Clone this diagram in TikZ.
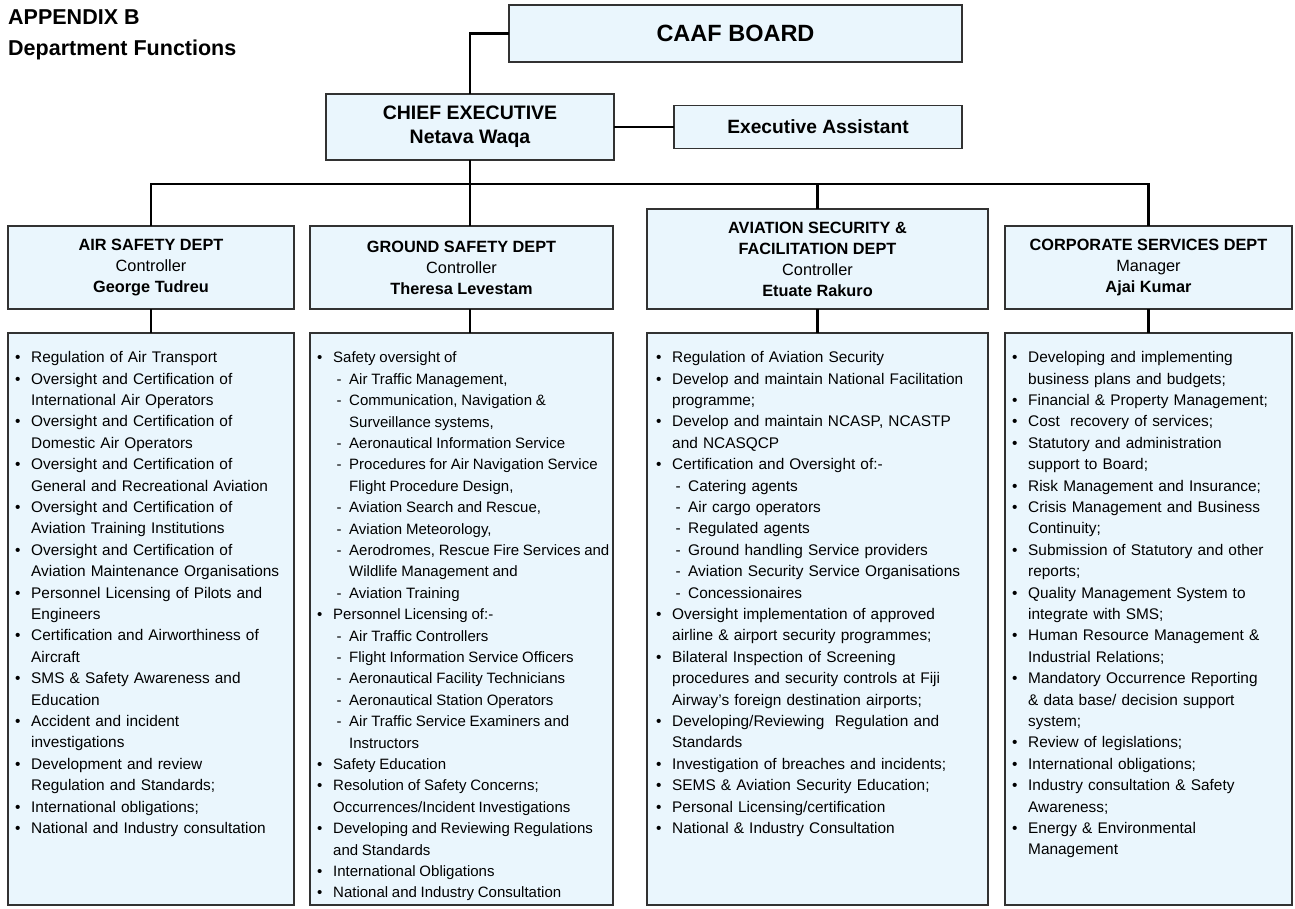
\documentclass[tikz,border=0pt]{standalone}
\usepackage{fontspec}
\setmainfont{Liberation Sans}
\definecolor{boxfill}{RGB}{234,246,253}
\definecolor{boxline}{RGB}{50,50,50}
\hyphenpenalty=10000
\exhyphenpenalty=10000
\newcommand\itB[1]{\par\noindent\hangindent=16pt\hangafter=1\makebox[16pt][l]{\textbullet}#1\par}
\newcommand\itD[1]{\par\noindent\hangindent=32pt\hangafter=1\hspace*{19.5pt}\makebox[12.5pt][l]{-}#1\par}
\newcommand\lbk{\hfil\break}
\tikzset{
  orgbox/.style={draw=boxline, line width=1.2pt, fill=boxfill, inner sep=0pt, outer sep=0pt, align=center},
  conn/.style={draw=black, line width=2.5pt, line join=miter},
  listtext/.style={anchor=north west, inner sep=0pt, text width=#1, align=left, font=\fontsize{15.4}{21.4}\selectfont},
  hdrfont/.style={font=\fontsize{16.3}{21}\selectfont},
}
\begin{document}
\begin{tikzpicture}[x=1pt,y=-1pt]
\useasboundingbox (0,0) rectangle (1295,909);

% titles
\node[anchor=base west, inner sep=0pt, font=\fontsize{21.5}{26}\selectfont\bfseries] (t1) at (8,25) {APPENDIX B};
\node[anchor=base west, inner sep=0pt, font=\fontsize{21.5}{26}\selectfont\bfseries] (t2) at (8,56) {Department Functions};

% top boxes
\node[orgbox, minimum width=453pt, minimum height=57pt, font=\fontsize{23.5}{28}\selectfont\bfseries] (board) at (735.5,33.5) {CAAF BOARD};
\node[orgbox, minimum width=288pt, minimum height=66pt, font=\fontsize{19.5}{24}\selectfont\bfseries] (ce) at (470,127) {CHIEF EXECUTIVE\\Netava Waqa};
\node[orgbox, minimum width=288pt, minimum height=43pt, font=\fontsize{19.2}{23}\selectfont\bfseries] (ea) at (818,127) {Executive Assistant};
\coordinate (busy) at (470,184);

% department headers
\node[orgbox, hdrfont, minimum width=286pt, minimum height=83pt] (h1) at (151,267.5) {\textbf{AIR SAFETY DEPT}\\Controller\\\textbf{George Tudreu}};
\node[orgbox, hdrfont, minimum width=303pt, minimum height=83pt] (h2) at (461.5,267.5) {\textbf{GROUND SAFETY DEPT}\\Controller\\\textbf{Theresa Levestam}};
\node[orgbox, hdrfont, minimum width=341pt, minimum height=100pt] (h3) at (817.5,259) {\textbf{AVIATION SECURITY \&}\\\textbf{FACILITATION DEPT}\\Controller\\\textbf{Etuate Rakuro}};
\node[orgbox, hdrfont, minimum width=287pt, minimum height=83pt] (h4) at (1148.5,267.5) {\textbf{CORPORATE SERVICES DEPT}\\Manager\\\textbf{Ajai Kumar}};

% content boxes
\node[orgbox, minimum width=286pt, minimum height=572pt] (c1) at (151,619) {};
\node[orgbox, minimum width=303pt, minimum height=572pt] (c2) at (461.5,619) {};
\node[orgbox, minimum width=341pt, minimum height=572pt] (c3) at (817.5,619) {};
\node[orgbox, minimum width=287pt, minimum height=572pt] (c4) at (1148.5,619) {};

% connectors
\draw[conn] (ce.north) |- (board.west);
\draw[conn] (ce.east) -- (ea.west);
\draw[conn] (ce.south) -- (h2.north -| ce.south);
\draw[conn] (h1.north) |- (busy) -| (h4.north);
\draw[conn] (h3.north) -- (h3.north |- busy);
\draw[conn] (h1.south) -- (c1.north);
\draw[conn] (h2.south -| ce.south) -- (c2.north -| ce.south);
\draw[conn] (h3.south) -- (c3.north);
\draw[conn] (h4.south) -- (c4.north);

% lists
\node[listtext=400pt] (l1) at ([xshift=7pt,yshift=-8pt]c1.north west) {%
\itB{Regulation of Air Transport}
\itB{Oversight and Certification of\lbk International Air Operators}
\itB{Oversight and Certification of\lbk Domestic Air Operators}
\itB{Oversight and Certification of\lbk General and Recreational Aviation}
\itB{Oversight and Certification of\lbk Aviation Training Institutions}
\itB{Oversight and Certification of\lbk Aviation Maintenance Organisations}
\itB{Personnel Licensing of Pilots and\lbk Engineers}
\itB{Certification and Airworthiness of\lbk Aircraft}
\itB{SMS \& Safety Awareness and\lbk Education}
\itB{Accident and incident\lbk investigations}
\itB{Development and review\lbk Regulation and Standards;}
\itB{International obligations;}
\itB{National and Industry consultation}};

\node[listtext=400pt, font=\fontsize{15}{21.4}\selectfont] (l2) at ([xshift=7pt,yshift=-8.3pt]c2.north west) {%
\spaceskip=0.25em\relax
\itB{Safety oversight of}
\itD{Air Traffic Management,}
\itD{Communication, Navigation \&\lbk Surveillance systems,}
\itD{Aeronautical Information Service}
\itD{Procedures for Air Navigation Service\lbk Flight Procedure Design,}
\itD{Aviation Search and Rescue,}
\itD{Aviation Meteorology,}
\itD{Aerodromes, Rescue Fire Services and\lbk Wildlife Management and}
\itD{Aviation Training}
\itB{Personnel Licensing of:-}
\itD{Air Traffic Controllers}
\itD{Flight Information Service Officers}
\itD{Aeronautical Facility Technicians}
\itD{Aeronautical Station Operators}
\itD{Air Traffic Service Examiners and\lbk Instructors}
\itB{Safety Education}
\itB{Resolution of Safety Concerns;\lbk Occurrences/Incident Investigations}
\itB{Developing and Reviewing Regulations\lbk and Standards}
\itB{International Obligations}
\itB{National and Industry Consultation}};

\node[listtext=400pt] (l3) at ([xshift=9pt,yshift=-8pt]c3.north west) {%
\itB{Regulation of Aviation Security}
\itB{Develop and maintain National Facilitation\lbk programme;}
\itB{Develop and maintain NCASP, NCASTP\lbk and NCASQCP}
\itB{Certification and Oversight of:-}
\itD{Catering agents}
\itD{Air cargo operators}
\itD{Regulated agents}
\itD{Ground handling Service providers}
\itD{Aviation Security Service Organisations}
\itD{Concessionaires}
\itB{Oversight implementation of approved\lbk airline \& airport security programmes;}
\itB{Bilateral Inspection of Screening\lbk procedures and security controls at Fiji\lbk Airway’s foreign destination airports;}
\itB{Developing/Reviewing\ \ Regulation and\lbk Standards}
\itB{Investigation of breaches and incidents;}
\itB{SEMS \& Aviation Security Education;}
\itB{Personal Licensing/certification}
\itB{National \& Industry Consultation}};

\node[listtext=400pt] (l4) at ([xshift=7pt,yshift=-8pt]c4.north west) {%
\itB{Developing and implementing\lbk business plans and budgets;}
\itB{Financial \& Property Management;}
\itB{Cost\ \ recovery of services;}
\itB{Statutory and administration\lbk support to Board;}
\itB{Risk Management and Insurance;}
\itB{Crisis Management and Business\lbk Continuity;}
\itB{Submission of Statutory and other\lbk reports;}
\itB{Quality Management System to\lbk integrate with SMS;}
\itB{Human Resource Management \&\lbk Industrial Relations;}
\itB{Mandatory Occurrence Reporting\lbk \& data base/ decision support\lbk system;}
\itB{Review of legislations;}
\itB{International obligations;}
\itB{Industry consultation \& Safety\lbk Awareness;}
\itB{Energy \& Environmental\lbk Management}};
\end{tikzpicture}
\end{document}
